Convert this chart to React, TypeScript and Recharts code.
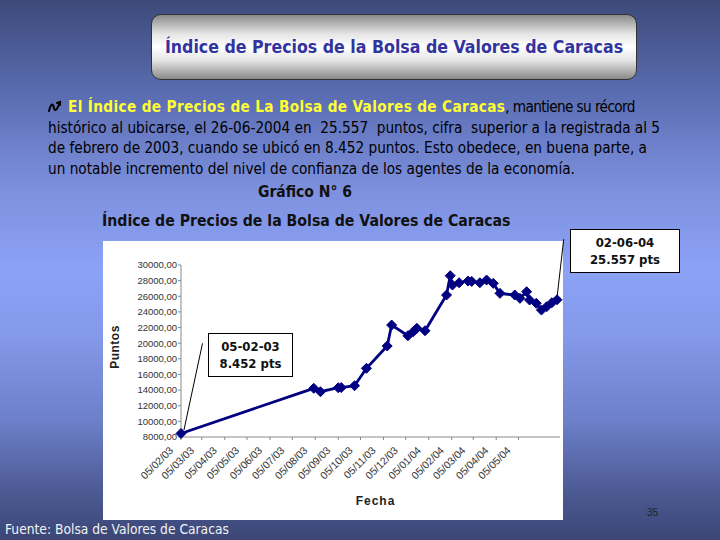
import React from "react";
import { LineChart, Line, XAxis, YAxis, ReferenceLine, Label } from "recharts";

// ─────────────────────────────────────────
// Data
// ─────────────────────────────────────────
const FECHAS = [
  "2003-02-05", "2003-08-03", "2003-08-12", "2003-09-05", "2003-09-09",
  "2003-09-27", "2003-10-13", "2003-11-10", "2003-11-16", "2003-12-08",
  "2003-12-15", "2003-12-20", "2003-12-31", "2004-01-29", "2004-02-03",
  "2004-02-06", "2004-02-15", "2004-02-27", "2004-03-03", "2004-03-14",
  "2004-03-23", "2004-04-01", "2004-04-10", "2004-04-30", "2004-05-07",
  "2004-05-16", "2004-05-20", "2004-05-29", "2004-06-05", "2004-06-12",
  "2004-06-19", "2004-06-26",
];
const PUNTOS = [
  8452, 14228, 13793, 14300, 14320,
  14560, 16785, 19637, 22322, 20954,
  21465, 21900, 21593, 26159, 28627,
  27437, 27731, 27949, 27900, 27731,
  28077, 27650, 26376, 26159, 25737,
  26581, 25519, 25097, 24240, 24663,
  25174, 25557,
];
const ETIQUETAS_X = [
  "05/02/03", "05/03/03", "05/04/03", "05/05/03", "05/06/03", "05/07/03",
  "05/08/03", "05/09/03", "05/10/03", "05/11/03", "05/12/03", "05/01/04",
  "05/02/04", "05/03/04", "05/04/04", "05/05/04",
];
const TICKS_Y = [8000, 10000, 12000, 14000, 16000, 18000, 20000, 22000, 24000, 26000, 28000, 30000];

const DIA = 86400000;
const INICIO = Date.UTC(2003, 1, 5);
const isoADia = (s: string) => {
  const [y, m, d] = s.split("-").map(Number);
  return Math.round((Date.UTC(y, m - 1, d) - INICIO) / DIA);
};
const etiquetaADia = (s: string) => {
  const [d, m, y] = s.split("/").map(Number);
  return Math.round((Date.UTC(2000 + y, m - 1, d) - INICIO) / DIA);
};

const data = FECHAS.map((f, i) => ({ dia: isoADia(f), puntos: PUNTOS[i] }));
const TICKS_X = ETIQUETAS_X.map(etiquetaADia);
const ULTIMO = data[data.length - 1];

const AXIS_FONT = "'Liberation Sans', Arial, sans-serif";
const TAHOMA = "'DejaVu Sans Condensed', 'DejaVu Sans', sans-serif";
const NAVY = "#000080";

const fmtY = (v: number) => v.toFixed(2).replace(".", ",");

function Rombo({ cx, cy }: any) {
  if (cx == null || cy == null) return null;
  const r = 5;
  return <path d={`M${cx} ${cy - r}L${cx + r} ${cy}L${cx} ${cy + r}L${cx - r} ${cy}Z`} fill={NAVY} stroke={NAVY} />;
}

function TickFecha({ x, y, payload }: any) {
  const i = TICKS_X.indexOf(payload.value);
  const tx = x - 7, ty = y + 9;
  return (
    <text x={tx} y={ty} transform={`rotate(-45 ${tx} ${ty})`} textAnchor="end"
      fontSize={10.5} fill="#333" fontFamily={AXIS_FONT}>
      {ETIQUETAS_X[i] ?? ""}
    </text>
  );
}

function Nota({ left, top, width, height, l1, l2 }: any) {
  return (
    <div style={{
      position: "absolute", left, top, width, height, boxSizing: "border-box",
      background: "#fff", border: "1px solid #000", display: "flex", flexDirection: "column",
      alignItems: "center", justifyContent: "center", fontFamily: TAHOMA, fontWeight: 700,
      fontSize: 13, lineHeight: "17px", color: "#111",
    }}>
      <div>{l1}</div>
      <div>{l2}</div>
    </div>
  );
}

const LINEAS = [
  "histórico al ubicarse, el 26-06-2004 en  25.557  puntos, cifra  superior a la registrada al 5",
  "de febrero de 2003, cuando se ubicó en 8.452 puntos. Esto obedece, en buena parte, a",
  "un notable incremento del nivel de confianza de los agentes de la economía.",
];

export default function App() {
  return (
    <div style={{
      position: "fixed", left: 0, top: 0, width: 720, height: 540, overflow: "hidden",
      background: "linear-gradient(to bottom, #3d4a7a 0%, #5a6cb0 17%, #7d90de 35%, #8ca2f5 50%, #8499ea 62%, #6c7fc8 78%, #4a5890 92%, #3b4676 100%)",
    }}>
      {/* Title box */}
      <div style={{
        position: "absolute", left: 151, top: 14, width: 486, height: 66, boxSizing: "border-box",
        borderRadius: 10, border: "1px solid #333",
        background: "linear-gradient(to bottom, #8a8a8a 0%, #e6e6e6 30%, #ffffff 50%, #e6e6e6 70%, #8a8a8a 100%)",
        display: "flex", alignItems: "center", justifyContent: "center",
        fontFamily: TAHOMA, fontWeight: 700, fontSize: 17.6, color: "#33339e", whiteSpace: "nowrap",
      }}>
        Índice de Precios de la Bolsa de Valores de Caracas
      </div>

      {/* Paragraph */}
      <div style={{ position: "absolute", left: 48, top: 97, fontFamily: TAHOMA, fontSize: 15.2, lineHeight: "20.7px", color: "#000", whiteSpace: "pre" }}>
        <div>
          <svg width={14} height={14} viewBox="0 0 14 14" style={{ verticalAlign: "-1px", marginRight: 6 }}>
            <path d="M1 12 C3 4, 5 4, 6 9 C7 13, 9 11, 12 3 M9 4 L12 3 L12 6" fill="none" stroke="#000" strokeWidth={2} strokeLinecap="round" />
          </svg>
          <span style={{ color: "#ffff33", fontWeight: 700, letterSpacing: 0.35 }}>El Índice de Precios de La Bolsa de Valores de Caracas</span>
          <span style={{ letterSpacing: -0.6 }}>, mantiene su récord</span>
        </div>
        {LINEAS.map((l) => <div key={l}>{l}</div>)}
      </div>

      <div style={{ position: "absolute", left: 0, width: 610, top: 183, textAlign: "center", fontFamily: TAHOMA, fontWeight: 700, fontSize: 15.5, color: "#111" }}>
        Gráfico N° 6
      </div>
      <div style={{ position: "absolute", left: 102, top: 211, fontFamily: TAHOMA, fontWeight: 700, fontSize: 15.7, color: "#111", whiteSpace: "nowrap" }}>
        Índice de Precios de la Bolsa de Valores de Caracas
      </div>

      {/* White chart panel */}
      <div style={{ position: "absolute", left: 103, top: 241, width: 460, height: 279, background: "#fff" }} />

      <div style={{ position: "absolute", left: 103, top: 230 }}>
        <LineChart width={480} height={290} data={data} margin={{ top: 35, right: 23, left: 0, bottom: 0 }}>
          <XAxis dataKey="dia" type="number" domain={[0, 511]} ticks={TICKS_X} interval={0}
            height={83} tickSize={3} tickMargin={2} tick={<TickFecha />}
            axisLine={{ stroke: "#888" }} tickLine={{ stroke: "#888" }}>
            <Label content={({ viewBox }: any) => (
              <text x={viewBox.x + viewBox.width / 2 + 5} y={viewBox.y + 68} textAnchor="middle"
                fontFamily={AXIS_FONT} fontWeight={700} fontSize={12} letterSpacing={1} fill="#222">Fecha</text>
            )} />
          </XAxis>
          <YAxis type="number" domain={[8000, 30000]} ticks={TICKS_Y} interval={0} width={78}
            tickSize={3} tickMargin={1} tickFormatter={fmtY}
            tick={{ fontSize: 9.5, fill: "#333", fontFamily: AXIS_FONT }}
            axisLine={{ stroke: "#888" }} tickLine={{ stroke: "#888" }}>
            <Label content={({ viewBox }: any) => {
              const cx = viewBox.x + 16, cy = viewBox.y + viewBox.height / 2 - 4;
              return (
                <text x={cx} y={cy} transform={`rotate(-90 ${cx} ${cy})`} textAnchor="middle"
                  fontFamily={AXIS_FONT} fontWeight={700} fontSize={12} letterSpacing={0.5} fill="#222">Puntos</text>
              );
            }} />
          </YAxis>
          <ReferenceLine segment={[{ x: 4, y: 8895 }, { x: 29, y: 19980 }]} stroke="#000" strokeWidth={1} ifOverflow="visible" />
          <ReferenceLine segment={[{ x: ULTIMO.dia, y: ULTIMO.puntos + 300 }, { x: 516, y: 33300 }]} stroke="#000" strokeWidth={1} ifOverflow="visible" />
          <Line type="linear" dataKey="puntos" stroke={NAVY} strokeWidth={2.8}
            dot={<Rombo />} activeDot={false} isAnimationActive={false} />
        </LineChart>
      </div>

      <Nota left={208} top={333} width={85} height={44} l1="05-02-03" l2="8.452 pts" />
      <Nota left={570} top={229} width={110} height={44} l1="02-06-04" l2="25.557 pts" />

      <div style={{ position: "absolute", left: 647, top: 507, fontFamily: AXIS_FONT, fontSize: 10, color: "#222" }}>35</div>
      <div style={{ position: "absolute", left: 5, top: 521, fontFamily: TAHOMA, fontSize: 13.7, color: "#f2f2f2", whiteSpace: "nowrap" }}>
        Fuente: Bolsa de Valores de Caracas
      </div>
    </div>
  );
}
